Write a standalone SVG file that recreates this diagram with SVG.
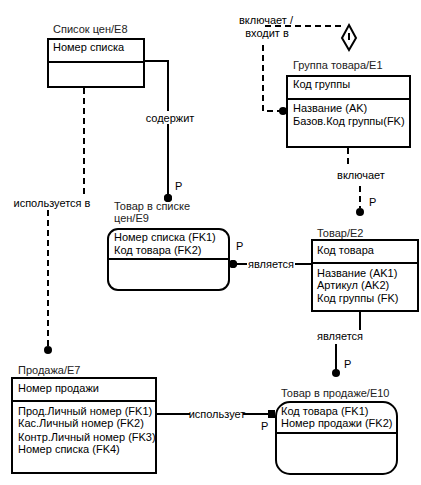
<svg xmlns="http://www.w3.org/2000/svg" width="421" height="485" viewBox="0 0 421 485">
<style>
text{font-family:"Liberation Sans",Arial,sans-serif;font-size:11px;fill:#000}
.lbl{fill:#222}
.box{fill:#fff;stroke:#000;stroke-width:2}
.ln{fill:none;stroke:#000;stroke-width:2}
.dash{fill:none;stroke:#000;stroke-width:2;stroke-dasharray:6 4}
.dot{fill:#000}
.bg{fill:#fff}
</style>
<rect width="421" height="485" fill="#fff"/>
<g id="connectors">
  <!-- E8 -> E9 содержит -->
  <path class="ln" d="M144 61 H168 V198"/>
  <rect class="bg" x="145" y="111" width="50" height="13"/>
  <text x="170" y="122" text-anchor="middle">содержит</text>
  <circle class="dot" cx="168" cy="198" r="4"/>
  <text x="175" y="190">P</text>
  <!-- E8 -> E7 используется в -->
  <path class="dash" d="M84 88 V196"/>
  <path class="dash" d="M48 210 V346"/>
  <text x="52" y="207" text-anchor="middle">используется в</text>
  <circle class="dot" cx="48" cy="350" r="4"/>
  <!-- E1 recursive -->
  <path class="dash" d="M283 111 H263 V42"/>
  <path class="dash" d="M265 26 H344"/>
  <text x="266" y="24" text-anchor="middle">включает /</text>
  <text x="267" y="37" text-anchor="middle">входит в</text>
  <path class="ln" d="M349 25 L356 38 L349 50 L342 38 Z"/>
  <path class="ln" d="M349 33 V40"/>
  <circle class="dot" cx="283" cy="111" r="4"/>
  <!-- E1 -> E2 включает -->
  <path class="dash" d="M348 148 V166"/>
  <text x="361" y="179" text-anchor="middle">включает</text>
  <path class="dash" d="M360 186 V208"/>
  <circle class="dot" cx="360" cy="212" r="4"/>
  <text x="369" y="206">P</text>
  <!-- E2 -> E9 является -->
  <path class="ln" d="M233 264 H312"/>
  <rect class="bg" x="247" y="257" width="48" height="13"/>
  <text x="271" y="268" text-anchor="middle">является</text>
  <circle class="dot" cx="233" cy="264" r="4"/>
  <text x="236" y="250">P</text>
  <!-- E2 -> E10 является -->
  <path class="ln" d="M360 312 V330"/>
  <text x="340" y="340" text-anchor="middle">является</text>
  <path class="ln" d="M336 344 V373"/>
  <circle class="dot" cx="336" cy="373" r="4"/>
  <text x="344" y="368">P</text>
  <!-- E7 -> E10 использует -->
  <path class="ln" d="M157 414 H272"/>
  <rect class="bg" x="190" y="407" width="53" height="13"/>
  <text x="217" y="418" text-anchor="middle">использует</text>
  <rect class="dot" x="268" y="410" width="7" height="8"/>
  <text x="261" y="430">P</text>
</g>
<g id="E8">
  <text class="lbl" x="53" y="33">Список цен/E8</text>
  <rect class="box" x="48" y="39" width="96" height="48"/>
  <line class="ln" x1="48" y1="62" x2="144" y2="62"/>
  <text x="53" y="51">Номер списка</text>
</g>
<g id="E1">
  <text class="lbl" x="293" y="69">Группа товара/E1</text>
  <rect class="box" x="287" y="76" width="123" height="71"/>
  <line class="ln" x1="287" y1="99" x2="410" y2="99"/>
  <text x="293" y="88">Код группы</text>
  <text x="293" y="112">Название (AK)</text>
  <text x="293" y="125">Базов.Код группы(FK)</text>
</g>
<g id="E9">
  <text class="lbl" x="114" y="210">Товар в списке</text>
  <text class="lbl" x="114" y="222">цен/E9</text>
  <rect class="box" x="108" y="229" width="121" height="61" rx="10"/>
  <line class="ln" x1="108" y1="259" x2="229" y2="259"/>
  <text x="114" y="241">Номер списка (FK1)</text>
  <text x="114" y="254">Код товара (FK2)</text>
  <circle class="dot" cx="233" cy="264" r="4"/>
  <circle class="dot" cx="168" cy="198" r="4"/>
</g>
<g id="E2">
  <text class="lbl" x="317" y="237">Товар/E2</text>
  <rect class="box" x="312" y="240" width="106" height="71"/>
  <line class="ln" x1="312" y1="263" x2="418" y2="263"/>
  <text x="317" y="254">Код товара</text>
  <text x="317" y="277">Название (AK1)</text>
  <text x="317" y="289">Артикул (AK2)</text>
  <text x="317" y="302">Код группы (FK)</text>
</g>
<g id="E7">
  <text class="lbl" x="18" y="374">Продажа/E7</text>
  <rect class="box" x="12" y="378" width="144" height="95"/>
  <line class="ln" x1="12" y1="401" x2="156" y2="401"/>
  <text x="18" y="392">Номер продажи</text>
  <text x="18" y="415">Прод.Личный номер (FK1)</text>
  <text x="18" y="427">Кас.Личный номер (FK2)</text>
  <text x="18" y="441">Контр.Личный номер (FK3)</text>
  <text x="18" y="453">Номер списка (FK4)</text>
</g>
<g id="E10">
  <text class="lbl" x="281" y="397">Товар в продаже/E10</text>
  <rect class="box" x="276" y="402" width="121" height="72" rx="14"/>
  <line class="ln" x1="276" y1="433" x2="397" y2="433"/>
  <text x="281" y="415">Код товара (FK1)</text>
  <text x="281" y="427">Номер продажи (FK2)</text>
  <rect class="dot" x="268" y="410" width="7" height="8"/>
</g>
</svg>
